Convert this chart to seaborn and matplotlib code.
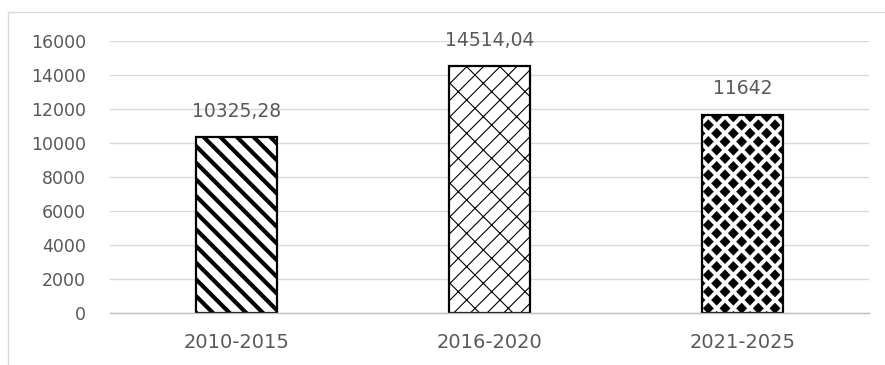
import matplotlib
matplotlib.use("Agg")
import numpy as np
import matplotlib.pyplot as plt
import matplotlib.hatch as mhatch
from matplotlib.path import Path
from matplotlib.patches import Rectangle
import seaborn as sns

# data
periods = ["2010-2015", "2016-2020", "2021-2025"]
values = [10325.28, 14514.04, 11642]
value_labels = ["10325,28", "14514,04", "11642"]
hatches = ["\\\\", "//\\", "*"]
hatch_widths = [3.0, 0.8, 0.3]


# staggered filled diamonds (Excel-like "large checker" pattern) in place of stars
class FilledDiamonds(mhatch.HatchPatternBase):
    def __init__(self, hatch, density):
        self.num_cols = hatch.count('*') * density
        self.num_rows = 2 * self.num_cols
        if self.num_cols == 0:
            self.num_vertices = 0
        else:
            n_shapes = ((self.num_rows // 2 + 1) * (self.num_cols + 1)
                        + (self.num_rows // 2) * self.num_cols)
            self.num_vertices = n_shapes * 5

    def set_vertices_and_codes(self, vertices, codes):
        dx = 1.0 / self.num_cols
        dy = 1.0 / self.num_rows
        hx, hy = 0.31 * dx, 0.64 * dy
        shape = np.array([[0, -hy], [hx, 0], [0, hy], [-hx, 0], [0, -hy]])
        shape_codes = [Path.MOVETO, Path.LINETO, Path.LINETO, Path.LINETO,
                       Path.CLOSEPOLY]
        cursor = 0
        for row in range(self.num_rows + 1):
            if row % 2 == 0:
                cols = np.linspace(0, 1, self.num_cols + 1)
            else:
                cols = np.linspace(dx / 2, 1 - dx / 2, self.num_cols)
            for x in cols:
                vertices[cursor:cursor + 5] = shape + (x, row * dy)
                codes[cursor:cursor + 5] = shape_codes
                cursor += 5


mhatch._hatch_types = [FilledDiamonds if t is mhatch.Stars else t
                       for t in mhatch._hatch_types]

sns.set_style("white")
plt.rcParams["font.family"] = ["DejaVu Sans"]

text_grey = "#595959"

fig = plt.figure(figsize=(8.85, 3.65), dpi=100)
ax = fig.add_axes([0.124, 0.142, 0.858, 0.746])

sns.barplot(x=periods, y=values, color="white", edgecolor="black",
            linewidth=1.6, width=0.32, ax=ax)

for bar, h, hw in zip(ax.patches, hatches, hatch_widths):
    bar.set_hatch(h)
    bar.set_edgecolor("black")
    if hasattr(bar, "set_hatch_linewidth"):
        bar.set_hatch_linewidth(hw)

ax.bar_label(ax.containers[0], labels=value_labels, padding=12,
             fontsize=13.5, color=text_grey)

ax.set_ylim(0, 16000)
ax.set_yticks(range(0, 16001, 2000))
ax.yaxis.grid(True, color="#d9d9d9", linewidth=1)
ax.set_axisbelow(True)
for s in ["top", "right", "left"]:
    ax.spines[s].set_visible(False)
ax.spines["bottom"].set_color("#bfbfbf")
ax.spines["bottom"].set_linewidth(1)
ax.tick_params(axis="y", length=0, pad=17, labelsize=12.5, labelcolor=text_grey)
ax.tick_params(axis="x", length=0, pad=14, labelsize=14, labelcolor=text_grey)
ax.set_xlabel("")
ax.set_ylabel("")

# chart frame (cut off on right and bottom)
fig.patches.append(Rectangle((8 / 885, -0.1), 1.2, 1.1 - 12 / 365,
                             transform=fig.transFigure, fill=False,
                             edgecolor="#d9d9d9", linewidth=1))

fig.savefig("out.png", dpi=100)
